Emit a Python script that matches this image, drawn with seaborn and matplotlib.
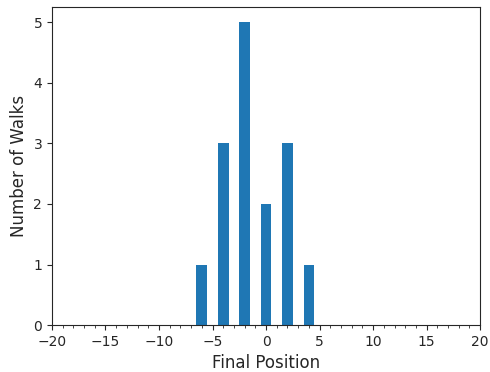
import matplotlib
matplotlib.use("Agg")
import matplotlib.pyplot as plt
import seaborn as sns
from matplotlib.ticker import MultipleLocator

positions = [-6, -4, -2, 0, 2, 4]
counts = [1, 3, 5, 2, 3, 1]

sns.set_style("ticks")
plt.rcParams['font.family'] = ['DejaVu Sans']

fig, ax = plt.subplots(figsize=(4.9, 3.72), dpi=100)
sns.histplot(x=positions, weights=counts, discrete=True, color="#1f77b4",
             alpha=1, linewidth=0, ax=ax)
ax.set_xlim(-20, 20)
ax.xaxis.set_major_locator(MultipleLocator(5))
ax.xaxis.set_minor_locator(MultipleLocator(1))
ax.set_xlabel("Final Position", fontsize=12)
ax.set_ylabel("Number of Walks", fontsize=12)
fig.subplots_adjust(left=0.106, right=0.98, top=0.981, bottom=0.126)
fig.savefig("out.png", dpi=100)
